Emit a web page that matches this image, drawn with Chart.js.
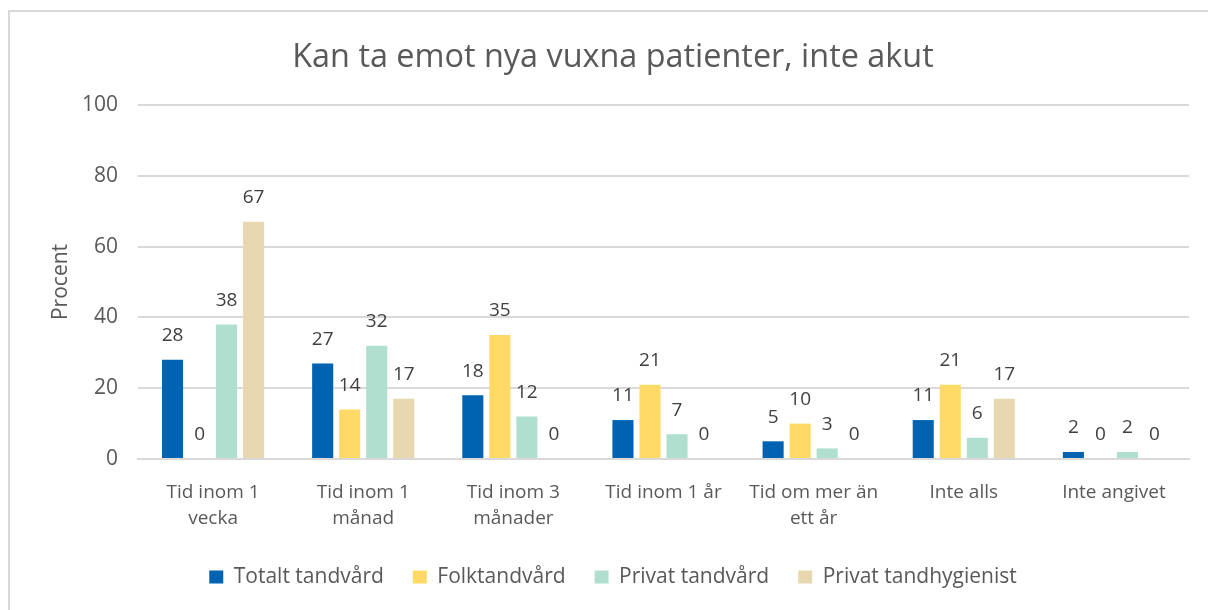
<!DOCTYPE html>
<html><head><meta charset="utf-8">
<script src="https://cdn.jsdelivr.net/npm/chart.js@4.4.1/dist/chart.umd.min.js"></script>
<style>
html,body{margin:0;padding:0;background:#fff;overflow:hidden;}
#wrap{position:absolute;left:0;top:0;width:1208px;height:610px;}
#frame{position:absolute;left:8px;top:10px;width:1220px;height:620px;border:2px solid #d9d9d9;box-sizing:border-box;}
canvas{position:absolute;left:0;top:0;}
</style></head>
<body>
<div id="wrap"><div id="frame"></div><canvas id="c" width="1208" height="610"></canvas></div>
<script>
const categories = [["Tid inom 1","vecka"],["Tid inom 1","månad"],["Tid inom 3","månader"],"Tid inom 1 år",["Tid om mer än","ett år"],"Inte alls","Inte angivet"];
const seriesNames = ["Totalt tandvård","Folktandvård","Privat tandvård","Privat tandhygienist"];
const totalt = [28,27,18,11,5,11,2];
const folk = [0,14,35,21,10,21,0];
const privat = [38,32,12,7,3,6,2];
const hygienist = [67,17,0,0,0,17,0];
const yTicks = [0,20,40,60,80,100];
const colors = ["#0063B1","#FFD966","#B0DFD0","#E8D8B0"];
const textColor = "#595959";
const FONT = "'Open Sans', sans-serif";

const labelPlugin = {
  id:'barLabels',
  afterDatasetsDraw(chart){
    const ctx = chart.ctx;
    ctx.save();
    ctx.font = "19px " + FONT;
    ctx.fillStyle = "#404040";
    ctx.textAlign = "center";
    ctx.textBaseline = "middle";
    chart.data.datasets.forEach((ds,i)=>{
      const meta = chart.getDatasetMeta(i);
      meta.data.forEach((bar,j)=>{
        const v = ds.data[j];
        if (v === null || v === undefined) return;
        ctx.fillText(String(v), bar.x, bar.y - 24);
      });
    });
    ctx.restore();
  }
};

new Chart(document.getElementById('c'), {
  type:'bar',
  data:{
    labels: categories,
    datasets: [totalt,folk,privat,hygienist].map((d,i)=>({
      label: seriesNames[i], data: d, backgroundColor: colors[i],
      categoryPercentage: 0.72, barPercentage: 0.78
    }))
  },
  options:{
    responsive:false, animation:false,
    layout:{padding:{left:37,right:19,top:0,bottom:12.5}},
    plugins:{
      title:{display:true,text:"Kan ta emot nya vuxna patienter, inte akut",color:textColor,
        font:{family:FONT,size:32.4,weight:'normal',lineHeight:1.2},padding:{top:38,bottom:28.1}},
      legend:{position:'bottom',
        labels:{color:textColor,font:{family:FONT,size:21},boxWidth:14,boxHeight:13,padding:29}},
      tooltip:{enabled:false}
    },
    scales:{
      x:{grid:{display:false,drawTicks:false},border:{color:"#d9d9d9",width:2},
        afterFit(s){ s.height = 78.5; },
        ticks:{color:textColor,font:{family:FONT,size:19,lineHeight:1.4},padding:20,maxRotation:0,autoSkip:false}},
      y:{min:0,max:100,
        afterBuildTicks(s){ s.ticks = yTicks.map(v=>({value:v})); },
        afterFit(s){ s.width = 101; },
        grid:{color:"#d9d9d9",lineWidth:2,drawTicks:false},border:{display:false},
        ticks:{color:textColor,font:{family:FONT,size:21},padding:20},
        title:{display:true,text:"Procent",color:textColor,font:{family:FONT,size:21,lineHeight:1.2},padding:{top:11,bottom:0}}}
    }
  },
  plugins:[labelPlugin]
});
</script>
</body></html>
